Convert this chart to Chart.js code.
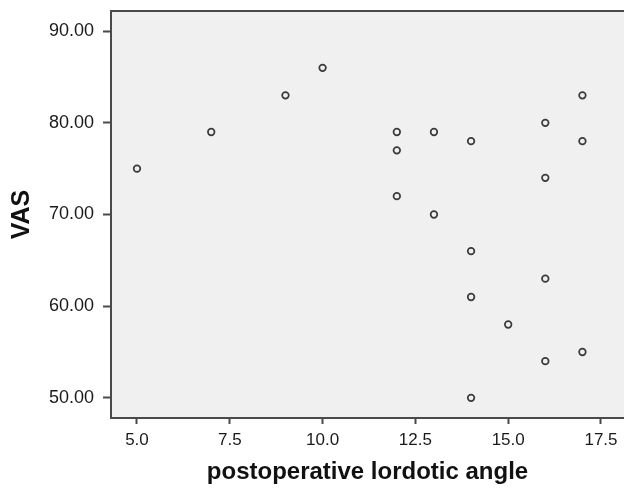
<!DOCTYPE html>
<html>
<head>
<meta charset="utf-8">
<script src="https://cdn.jsdelivr.net/npm/chart.js@4"></script>
<style>
  body { margin: 0; background: #fff; }
  #wrap { width: 624px; height: 490px; position: relative; }
</style>
</head>
<body>
<div id="wrap"><canvas id="chart"></canvas></div>
<script>
const angle = [5, 7, 9, 10, 12, 12, 12, 13, 13, 14, 14, 14, 14, 15, 16, 16, 16, 16, 17, 17, 17];
const vas = [75, 79, 83, 86, 79, 77, 72, 79, 70, 78, 66, 61, 50, 58, 80, 74, 63, 54, 83, 78, 55];
const xTicks = [5, 7.5, 10, 12.5, 15, 17.5];
const yTicks = [50, 60, 70, 80, 90];

const axisColor = "#4a4a4a";

// plot background + top border (the reference has no right edge, it is cut off)
const frame = {
  id: "frame",
  beforeDraw(chart) {
    const { ctx, chartArea: a } = chart;
    ctx.save();
    ctx.fillStyle = "#f0f0f0";
    ctx.fillRect(a.left, a.top, a.right - a.left, a.bottom - a.top);
    ctx.restore();
  },
  afterDraw(chart) {
    const { ctx, chartArea: a } = chart;
    ctx.save();
    ctx.strokeStyle = axisColor;
    ctx.lineWidth = 2;
    ctx.beginPath();
    ctx.moveTo(a.left, a.top);
    ctx.lineTo(a.right, a.top);
    ctx.stroke();
    ctx.restore();
  },
};

function initChart() {
  new Chart(document.getElementById("chart"), {
    type: "scatter",
    data: {
      datasets: [
        {
          data: angle.map((x, i) => ({ x: x, y: vas[i] })),
          pointStyle: "circle",
          pointRadius: 3.3,
          pointHoverRadius: 3.3,
          borderWidth: 1.7,
          borderColor: "#3a3a3a",
          backgroundColor: "rgba(0,0,0,0)",
        },
      ],
    },
    options: {
      responsive: true,
      maintainAspectRatio: false,
      animation: false,
      layout: { autoPadding: false, padding: { top: 11, right: 0, left: 0, bottom: 0 } },
      plugins: { legend: { display: false }, tooltip: { enabled: false } },
      scales: {
        x: {
          type: "linear",
          min: 4.3,
          max: 18.12,
          afterBuildTicks: (s) => { s.ticks = xTicks.map((v) => ({ value: v })); },
          afterFit: (s) => {
            s.height = 72;
            s.paddingLeft = 0;
            s.paddingRight = 0;
          },
          grid: { drawOnChartArea: false, tickLength: 6, tickWidth: 2, tickColor: axisColor },
          border: { color: axisColor, width: 2 },
          ticks: {
            padding: 6,
            color: "#1a1a1a",
            font: { family: "Liberation Sans", size: 17 },
            callback: (v) => Number(v).toFixed(1),
          },
          title: {
            display: true,
            text: "postoperative lordotic angle",
            color: "#111",
            font: { family: "Liberation Sans", size: 24, weight: "bold" },
            padding: { top: 0, bottom: 3 },
          },
        },
        y: {
          type: "linear",
          min: 47.8,
          max: 92.2,
          afterBuildTicks: (s) => { s.ticks = yTicks.map((v) => ({ value: v })); },
          afterFit: (s) => {
            s.width = 111;
            s.paddingTop = 0;
            s.paddingBottom = 0;
          },
          grid: { drawOnChartArea: false, tickLength: 8, tickWidth: 2, tickColor: axisColor },
          border: { color: axisColor, width: 2 },
          ticks: {
            padding: 9,
            color: "#1a1a1a",
            font: { family: "Liberation Sans", size: 18 },
            callback: (v) => Number(v).toFixed(2),
          },
          title: {
            display: true,
            text: "VAS",
            color: "#111",
            font: { family: "Liberation Sans", size: 25, weight: "bold" },
            padding: { top: 7, bottom: 0 },
          },
        },
      },
    },
    plugins: [frame],
  });
}

window.addEventListener("load", () => {
  initChart();
});
</script>
</body>
</html>
